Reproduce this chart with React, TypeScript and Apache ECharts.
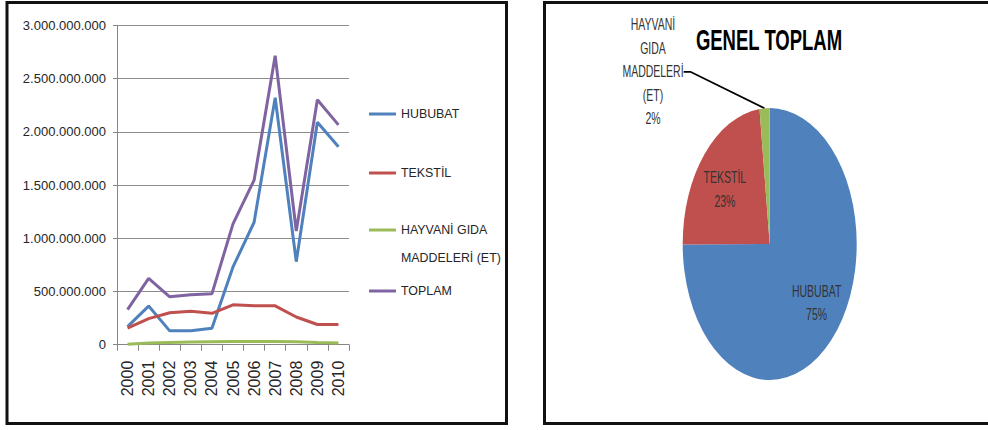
import React, { useEffect, useRef } from 'react';
import * as echarts from 'echarts';

const years = ['2000', '2001', '2002', '2003', '2004', '2005', '2006', '2007', '2008', '2009', '2010'];
const hububat = [170e6, 363e6, 130e6, 130e6, 155e6, 730e6, 1150e6, 2320e6, 780e6, 2090e6, 1860e6];
const tekstil = [155e6, 245e6, 300e6, 315e6, 295e6, 375e6, 365e6, 365e6, 260e6, 190e6, 190e6];
const hayvani = [5e6, 15e6, 20e6, 25e6, 28e6, 30e6, 30e6, 30e6, 28e6, 20e6, 15e6];
const toplam = [330e6, 623e6, 450e6, 470e6, 478e6, 1135e6, 1545e6, 2715e6, 1068e6, 2300e6, 2065e6];

const seriesNames = ['HUBUBAT', 'TEKSTİL', 'HAYVANİ GIDA MADDELERİ (ET)', 'TOPLAM'];
const seriesData = [hububat, tekstil, hayvani, toplam];
const colors = ['#4F81BD', '#C0504D', '#9BBB59', '#8064A2'];
const pieTitle = 'GENEL TOPLAM';

const yMin = 0;
const yMax = 3000000000;
const yInterval = 500000000;

const SANS = '"Liberation Sans", Arial, sans-serif';

const fmtDots = (v: number) => String(Math.round(v)).replace(/\B(?=(\d{3})+(?!\d))/g, '.');

export default function App() {
  const lineRef = useRef<HTMLDivElement>(null);
  const pieRef = useRef<HTMLDivElement>(null);

  useEffect(() => {
    document.body.style.margin = '0';
    const c1 = echarts.init(lineRef.current!, null, { renderer: 'svg' });
    const c2 = echarts.init(pieRef.current!, null, { renderer: 'svg' });

    const legendTops = [107, 166, 188, 284];
    const legends = seriesNames.map((n, i) => ({
      orient: 'vertical',
      left: 369,
      top: legendTops[i],
      padding: 0,
      data: [n],
      icon: 'rect',
      itemWidth: 27,
      itemHeight: 3,
      formatter: (name: string) =>
        name === 'HAYVANİ GIDA MADDELERİ (ET)' ? '\nHAYVANİ GIDA\nMADDELERİ (ET)' : name,
      textStyle: {
        fontFamily: SANS,
        fontSize: 12.4,
        color: '#262626',
        lineHeight: i === 2 ? 28 : 14,
      },
    }));

    c1.setOption({
      animation: false,
      backgroundColor: 'transparent',
      color: colors,
      legend: legends,
      grid: { left: 117, right: 639, top: 25.3, bottom: 85.3, containLabel: false },
      xAxis: {
        type: 'category',
        data: years,
        boundaryGap: true,
        axisLine: { show: true, lineStyle: { color: '#868686', width: 1 } },
        axisTick: { show: true, length: 6, lineStyle: { color: '#868686' } },
        axisLabel: {
          rotate: 90,
          margin: 16,
          fontSize: 16,
          fontFamily: SANS,
          color: '#262626',
          interval: 0,
        },
      },
      yAxis: {
        type: 'value',
        min: yMin,
        max: yMax,
        interval: yInterval,
        axisLine: { show: true, lineStyle: { color: '#868686', width: 1 } },
        axisTick: { show: true, length: 4, lineStyle: { color: '#868686' } },
        splitLine: { show: true, lineStyle: { color: '#8c8c8c', width: 1 } },
        axisLabel: {
          margin: 11,
          fontSize: 13,
          fontFamily: SANS,
          color: '#262626',
          formatter: (v: number) => fmtDots(v),
        },
      },
      series: seriesNames.map((n, i) => ({
        name: n,
        type: 'line',
        data: seriesData[i],
        symbol: 'none',
        showSymbol: false,
        lineStyle: { width: 3, color: colors[i] },
        itemStyle: { color: colors[i] },
      })),
      graphic: [
        {
          type: 'rect',
          shape: { x: 7, y: 2.5, width: 499.5, height: 421 },
          style: { fill: 'none', stroke: '#111', lineWidth: 3 },
          silent: true,
        },
        {
          type: 'rect',
          shape: { x: 544.5, y: 2.5, width: 470, height: 421 },
          style: { fill: 'none', stroke: '#111', lineWidth: 3 },
          silent: true,
        },
      ],
    });

    const sum = (a: number[]) => a.reduce((s, v) => s + v, 0);
    const pieData = [0, 1, 2].map((i) => ({
      name: seriesNames[i],
      value: sum(seriesData[i]),
      itemStyle: { color: colors[i] },
      label: i === 2 ? { position: 'outside' } : undefined,
      labelLine: i === 2 ? { show: true } : undefined,
    }));

    c2.setOption({
      animation: false,
      backgroundColor: 'transparent',
      title: {
        text: pieTitle,
        left: 229,
        top: 16,
        padding: 0,
        textAlign: 'center',
        textStyle: { fontFamily: SANS, fontWeight: 'bold', fontSize: 18.5, color: '#000' },
      },
      series: [
        {
          type: 'pie',
          center: [229.7, 156.2],
          radius: [0, 87],
          startAngle: 90,
          clockwise: true,
          percentPrecision: 0,
          avoidLabelOverlap: false,
          data: pieData,
          itemStyle: { borderWidth: 0 },
          label: {
            show: true,
            position: 'inside',
            fontFamily: SANS,
            fontSize: 10.5,
            lineHeight: 15,
            color: '#333',
            formatter: (p: any) => p.name.split(' ').join('\n') + '\n' + p.percent + '%',
          },
          labelLine: {
            show: true,
            length: 10,
            length2: 7,
            smooth: false,
            lineStyle: { color: '#000', width: 1.2 },
          },
          labelLayout: (p: any) => {
            if (p.dataIndex === 2) return { x: 113, y: 46, align: 'center', verticalAlign: 'middle' };
            if (p.dataIndex === 0) return { dx: 14, dy: 5 };
            if (p.dataIndex === 1) return { dx: -10, dy: -4 };
            return {};
          },
          emphasis: { disabled: true },
        },
      ],
    });

    return () => {
      c1.dispose();
      c2.dispose();
    };
  }, []);

  return (
    <div style={{ position: 'relative', width: 988, height: 430, background: '#fff', overflow: 'hidden' }}>
      <div ref={lineRef} style={{ position: 'absolute', left: 0, top: 0, width: 988, height: 430 }} />
      <div
        ref={pieRef}
        style={{
          position: 'absolute',
          left: 540,
          top: 0,
          width: 448,
          height: 275.2,
          transform: 'scaleY(1.5625)',
          transformOrigin: '0 0',
        }}
      />
    </div>
  );
}
